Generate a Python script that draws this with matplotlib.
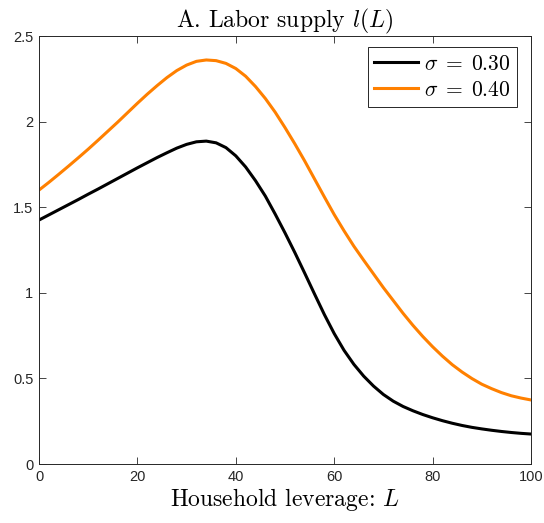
import matplotlib
matplotlib.use('Agg')
import matplotlib.pyplot as plt
import numpy as np
from matplotlib.ticker import FuncFormatter

plt.rcParams['mathtext.fontset'] = 'cm'
plt.rcParams['font.family'] = ['Liberation Sans', 'DejaVu Sans']

# household leverage grid (both series share it)
leverage = list(range(0, 101, 2))

# labor supply, sigma = 0.30
labor_low = [1.425, 1.455, 1.485, 1.515, 1.545, 1.576, 1.606, 1.637, 1.668, 1.699,
             1.73, 1.76, 1.79, 1.818, 1.845, 1.867, 1.882, 1.886, 1.876, 1.848,
             1.80, 1.735, 1.655, 1.565, 1.46, 1.35, 1.235, 1.115, 0.993, 0.873,
             0.762, 0.664, 0.582, 0.513, 0.455, 0.406, 0.367, 0.336, 0.311, 0.289,
             0.27, 0.253, 0.238, 0.225, 0.214, 0.205, 0.197, 0.19, 0.184, 0.179,
             0.175]

# labor supply, sigma = 0.40
labor_high = [1.60, 1.645, 1.692, 1.74, 1.789, 1.839, 1.891, 1.944, 1.997, 2.052,
              2.107, 2.16, 2.21, 2.257, 2.298, 2.33, 2.352, 2.36, 2.356, 2.34,
              2.31, 2.265, 2.205, 2.135, 2.055, 1.965, 1.87, 1.77, 1.665, 1.56,
              1.457, 1.362, 1.272, 1.19, 1.11, 1.03, 0.955, 0.88, 0.81, 0.745,
              0.685, 0.63, 0.58, 0.537, 0.499, 0.466, 0.44, 0.417, 0.3985, 0.385,
              0.374]

series_labels = [r'$\sigma\;=\;0.30$', r'$\sigma\;=\;0.40$']
series_colors = ['black', '#ff8000']

x_ticks = [0, 20, 40, 60, 80, 100]
y_ticks = [0, 0.5, 1, 1.5, 2, 2.5]

fig = plt.figure(figsize=(5.44, 5.23), dpi=100)
ax = fig.add_axes([39 / 544, 59 / 523, 492 / 544, 428 / 523])

ax.plot(leverage, labor_low, color=series_colors[0], lw=2.2, label=series_labels[0])
ax.plot(leverage, labor_high, color=series_colors[1], lw=2.2, label=series_labels[1])

ax.set_xlim(0, 100)
ax.set_ylim(0, 2.5)
ax.set_xticks(x_ticks)
ax.set_yticks(y_ticks)
ax.yaxis.set_major_formatter(FuncFormatter(lambda v, p: f'{v:g}'))
ax.tick_params(direction='in', top=True, right=True, length=5, width=0.6,
               color='#262626', labelsize=10.5, labelcolor='#262626', pad=4)
for sp in ax.spines.values():
    sp.set_color('#262626')
    sp.set_linewidth(0.7)

ax.set_title(r'A. Labor supply $l(L)$', fontfamily='cmr10', fontsize=17, pad=6)
ax.set_xlabel(r'Household leverage: $L$', fontfamily='cmr10', fontsize=17, labelpad=2)

leg = ax.legend(loc='upper right', bbox_to_anchor=(0.9715, 0.974), borderaxespad=0,
                fancybox=False, framealpha=1, edgecolor='#262626', fontsize=15.5,
                handlelength=2.0, handletextpad=0.3, borderpad=0.3, labelspacing=0.25)
leg.get_frame().set_linewidth(0.7)

fig.savefig('out.png', dpi=100)
